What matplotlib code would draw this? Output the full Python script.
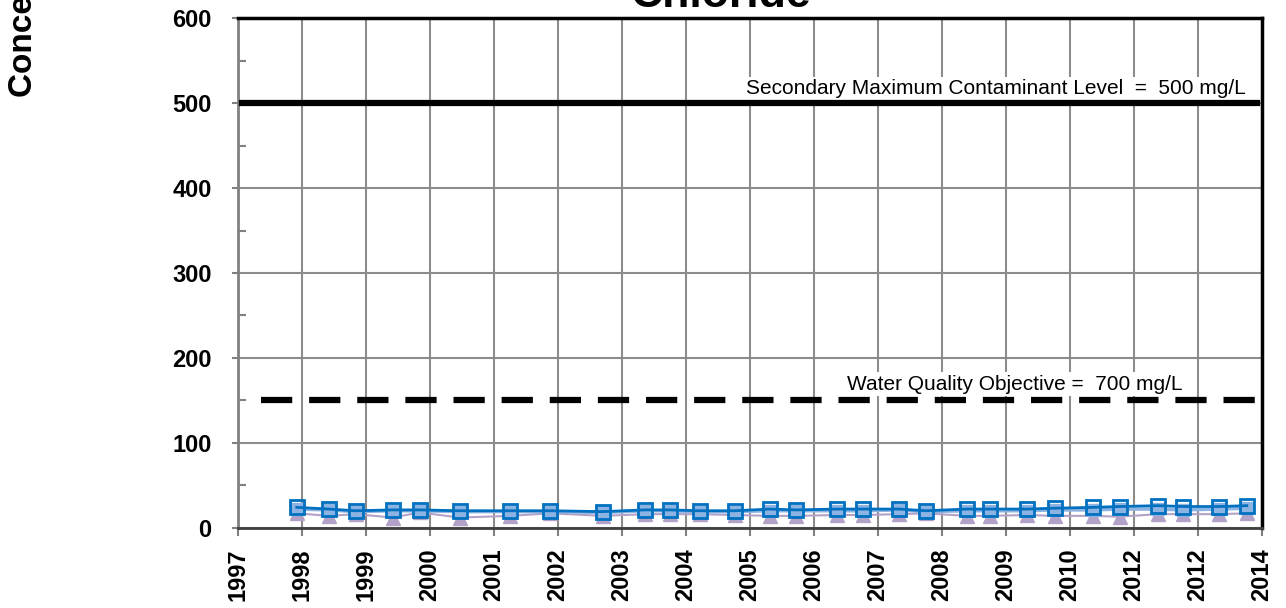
import matplotlib.pyplot as plt
from matplotlib.ticker import MultipleLocator, FixedLocator

plt.rcParams['font.family'] = ['Liberation Sans', 'DejaVu Sans']

tick_labels = ['1997', '1998', '1999', '2000', '2001', '2002', '2003', '2004',
               '2005', '2006', '2007', '2008', '2009', '2010', '2012', '2012',
               '2014']

# sample dates, as position along the axis (1 = one labelled tick interval)
sample_pos = [0.92, 1.42, 1.84, 2.42, 2.84, 3.47, 4.25, 4.88, 5.70, 6.36,
              6.75, 7.22, 7.77, 8.31, 8.73, 9.36, 9.77, 10.34, 10.75, 11.39,
              11.75, 12.33, 12.77, 13.36, 13.78, 14.38, 14.77, 15.34, 15.77]

well_a = [24, 22, 20, 21, 21, 20, 20, 20, 19, 21,
          21, 20, 20, 22, 21, 22, 22, 22, 20, 22,
          22, 22, 23, 24, 25, 26, 25, 25, 26]
well_b = [22, 21, 19, 20, 20, 19, 19, 19, 18, 20,
          20, 19, 19, 20, 20, 20, 20, 21, 19, 20,
          20, 20, 21, 21, 22, 22, 21, 22, 23]
well_c = [17, 14, 16, 12, 18, 12, 14, 17, 14, 16,
          16, 16, 15, 14, 14, 15, 15, 16, 17, 14,
          14, 15, 14, 14, 13, 16, 16, 16, 17]

smcl = 500
wqo_line = 150

fig = plt.figure(figsize=(12.86, 6.08), dpi=100)
ax = fig.add_axes([0.185, 0.132, 0.796, 0.838])

ax.set_xlim(0, len(tick_labels) - 1)
ax.set_ylim(0, 600)

ax.xaxis.set_major_locator(FixedLocator(range(len(tick_labels))))
ax.set_xticklabels(tick_labels, rotation=90, fontsize=17, fontweight='bold')
ax.yaxis.set_major_locator(MultipleLocator(100))
ax.yaxis.set_minor_locator(MultipleLocator(50))
for lab in ax.get_yticklabels():
    lab.set_fontweight('bold')

ax.grid(True, which='major', color='#8c8c8c', lw=1.5)
ax.set_axisbelow(True)

ax.tick_params(axis='y', which='major', direction='out', length=4, width=1.5,
               color='#808080', labelsize=17, pad=15)
ax.tick_params(axis='y', which='minor', direction='in', length=6, width=1.5,
               color='#808080')
ax.tick_params(axis='x', which='major', direction='out', length=6, width=1.5,
               color='#808080', pad=9)

for side in ['top', 'right']:
    ax.spines[side].set_color('black')
    ax.spines[side].set_linewidth(2.5)
ax.spines['left'].set_color('#808080')
ax.spines['left'].set_linewidth(2)
ax.spines['bottom'].set_color('#404040')
ax.spines['bottom'].set_linewidth(2)

# reference levels
ax.axhline(smcl, xmin=0.004, xmax=0.996, color='black', lw=4.5, zorder=3)
ax.axhline(wqo_line, xmin=0.023, xmax=0.996, color='black', lw=4.5,
           dashes=(5, 2.7), zorder=3)
ax.text(0.985, 517, 'Secondary Maximum Contaminant Level  =  500 mg/L',
        transform=ax.get_yaxis_transform(), ha='right', va='center',
        fontsize=15, bbox=dict(facecolor='white', edgecolor='none', pad=2),
        zorder=2)
ax.text(0.923, 169, 'Water Quality Objective =  700 mg/L',
        transform=ax.get_yaxis_transform(), ha='right', va='center',
        fontsize=15, bbox=dict(facecolor='white', edgecolor='none', pad=2),
        zorder=2)

# data series
ax.plot(sample_pos, well_c, color='#b3a2c7', lw=1.5, marker='^', ms=10,
        mfc='#b3a2c7', mec='#b3a2c7', zorder=5)
ax.plot(sample_pos, well_b, color='#8db3e2', lw=2.5, marker='s', ms=8.5,
        mfc='#8db3e2', mec='#8db3e2', zorder=6)
ax.plot(sample_pos, well_a, color='#0070c0', lw=2, marker='s', ms=10.5,
        mfc='none', mec='#0070c0', mew=2, zorder=7)

fig.text(0.56, 0.989, 'Chloride', ha='center', va='baseline',
         fontsize=32, fontweight='bold')
fig.text(0.018, 1 - 97 / 608, 'Concentration, in milligrams per liter',
         rotation=90, ha='center', va='bottom', fontsize=24, fontweight='bold')

fig.savefig('out.png', dpi=100)
